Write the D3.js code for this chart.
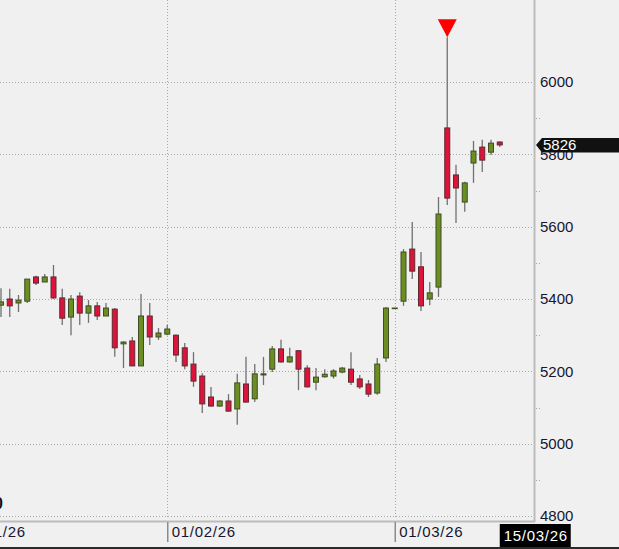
<!DOCTYPE html>
<html><head><meta charset="utf-8">
<script src="https://cdn.jsdelivr.net/npm/d3@7/dist/d3.min.js"></script>
<style>html,body{margin:0;padding:0;background:#f0f0f0;overflow:hidden}</style>
</head><body><svg id="c" width="619" height="549"></svg>
<script>
// ---- data (trading-session index 0..57, left part of history is off-screen) ----
const openV  = [5383,5400,5389,5394,5461,5447,5461,5403,5350,5408,5361,5381,5353,5372,5276,5284,5215,5353,5295,5303,
                5300,5265,5220,5187,5129,5104,5118,5096,5165,5124,5190,5206,5262,5226,5257,5209,5170,5185,5187,5198,
                5206,5179,5165,5140,5237,5375,5394,5538,5489,5400,5433,5873,5743,5668,5776,5820,5806,5834];
const highV  = [5430,5428,5411,5455,5464,5469,5494,5428,5411,5419,5397,5392,5389,5375,5283,5295,5414,5389,5320,5328,
                5302,5278,5253,5195,5157,5120,5137,5193,5240,5220,5240,5270,5287,5265,5259,5217,5209,5206,5206,5212,
                5253,5190,5176,5237,5378,5375,5538,5613,5530,5447,5682,6124,5771,5724,5837,5840,5840,5836];
const lowV   = [5350,5350,5364,5389,5439,5447,5400,5328,5300,5328,5334,5342,5353,5240,5209,5215,5215,5273,5287,5300,
                5226,5206,5157,5085,5102,5102,5088,5052,5113,5115,5162,5198,5224,5224,5148,5155,5148,5182,5180,5195,
                5162,5151,5129,5135,5226,5375,5381,5455,5367,5383,5406,5660,5610,5641,5721,5751,5798,5820];
const closeV = [5392,5381,5397,5455,5444,5461,5403,5347,5400,5361,5381,5353,5375,5265,5281,5215,5353,5295,5306,5317,
                5245,5215,5173,5110,5104,5118,5090,5168,5115,5193,5193,5262,5226,5240,5206,5157,5184,5192,5201,5209,
                5170,5157,5137,5220,5375,5375,5530,5477,5381,5417,5635,5679,5707,5721,5809,5784,5831,5826];
const yTicks      = [4800,5000,5200,5400,5600,5800,6000];
const yMinorTicks = [4900,5100,5300,5500,5700,5900];
const dateTickIdx    = [-5,19,45];
const dateTickLabels = ["01/01/26","01/02/26","01/03/26"];
const lastDateLabel  = "15/03/26";
const lastPrice      = 5826;
const markerIdx      = [51];

// ---- drawing ----
const W = 619, H = 549, plotRight = 534, plotBottom = 521;
const FONT = "'Liberation Sans', Arial, sans-serif";
const TXT = "#161630";
const svg = d3.select("#c");
const x = d3.scaleLinear().domain([0, 57]).range([1, 499.75]);
const y = d3.scaleLinear().domain([4800, 6000]).range([516, 82]);
const idx = d3.range(openV.length);

svg.append("rect").attr("width", W).attr("height", H).attr("fill", "#f0f0f0");

// horizontal dotted grid
svg.append("g").selectAll("line").data(yTicks).join("line")
  .attr("x1", 0).attr("x2", plotRight - 1)
  .attr("y1", d => Math.round(y(d)) + 0.5).attr("y2", d => Math.round(y(d)) + 0.5)
  .attr("stroke", "#a8a8a8").attr("stroke-width", 1).attr("stroke-dasharray", "1,2");
// vertical dotted grid
svg.append("g").selectAll("line").data(dateTickIdx).join("line")
  .attr("x1", d => Math.round(x(d)) + 0.5).attr("x2", d => Math.round(x(d)) + 0.5)
  .attr("y1", 0).attr("y2", plotBottom - 2)
  .attr("stroke", "#a8a8a8").attr("stroke-width", 1).attr("stroke-dasharray", "1,2");

// wicks
svg.append("g").selectAll("line").data(idx).join("line")
  .attr("x1", i => x(i)).attr("x2", i => x(i))
  .attr("y1", i => y(highV[i])).attr("y2", i => y(lowV[i]))
  .attr("stroke", "#707070").attr("stroke-width", 1.3);
// bodies
const bw = 5;
svg.append("g").selectAll("rect").data(idx).join("rect")
  .attr("x", i => x(i) - bw / 2)
  .attr("y", i => y(Math.max(openV[i], closeV[i])))
  .attr("width", bw)
  .attr("height", i => Math.max(0.6, Math.abs(y(openV[i]) - y(closeV[i]))))
  .attr("fill", i => closeV[i] >= openV[i] ? "#6b8e23" : "#dc143c")
  .attr("stroke", i => closeV[i] >= openV[i] ? "#3e4d22" : "#5e2a30")
  .attr("stroke-width", 1);

// red marker triangle above the high
svg.append("g").selectAll("path").data(markerIdx).join("path")
  .attr("d", i => { const cx = x(i), cy = y(highV[i]); return `M${cx - 9.5},${cy - 18}L${cx + 9.5},${cy - 18}L${cx},${cy}Z`; })
  .attr("fill", "#ff0000");

// right price axis
svg.append("line").attr("x1", plotRight + 0.5).attr("x2", plotRight + 0.5).attr("y1", 0).attr("y2", plotBottom + 1)
  .attr("stroke", "#bcbcbc").attr("stroke-width", 2);
svg.append("g").selectAll("line").data(yMinorTicks).join("line")
  .attr("x1", plotRight + 2).attr("x2", plotRight + 7)
  .attr("y1", d => Math.round(y(d)) + 0.5).attr("y2", d => Math.round(y(d)) + 0.5)
  .attr("stroke", "#a8a8a8").attr("stroke-dasharray", "1,2");
const yAxis = svg.append("g").attr("transform", `translate(${plotRight},0)`)
  .call(d3.axisRight(y).tickValues(yTicks).tickSize(0).tickPadding(6).tickFormat(d3.format("d")));
yAxis.select(".domain").remove();
yAxis.selectAll("text").attr("fill", TXT).style("font-family", FONT).style("font-size", "15px");

// bottom border + date axis
svg.append("line").attr("x1", 0).attr("x2", plotRight + 1).attr("y1", plotBottom + 0.5).attr("y2", plotBottom + 0.5)
  .attr("stroke", "#bcbcbc").attr("stroke-width", 2);
const xAxis = svg.append("g").attr("transform", `translate(0,${plotBottom + 1})`)
  .call(d3.axisBottom(x).tickValues(dateTickIdx).tickSize(20).tickFormat((d, k) => dateTickLabels[k]));
xAxis.select(".domain").remove();
xAxis.selectAll(".tick line").attr("stroke", "#8c8c8c").attr("stroke-width", 1.5);
xAxis.selectAll(".tick text").attr("text-anchor", "start").attr("x", 4).attr("y", 4).attr("dy", "0.71em")
  .attr("fill", TXT).style("font-family", FONT).style("font-size", "15px").style("letter-spacing", "0.7px");

// last date tag
const lx = x(57);
svg.append("rect").attr("x", lx).attr("y", 524).attr("width", 71).attr("height", 23).attr("fill", "#000");
svg.append("text").attr("x", lx + 4).attr("y", 541).text(lastDateLabel)
  .attr("fill", "#fff").style("font-family", FONT).style("font-size", "15px").style("letter-spacing", "0.7px");

// last price tag
const py = y(lastPrice);
svg.append("path").attr("d", `M${plotRight + 2},${py}L${plotRight + 8},${py - 7}L${W + 2},${py - 7}L${W + 2},${py + 7.5}L${plotRight + 8},${py + 7.5}Z`)
  .attr("fill", "#111");
svg.append("text").attr("x", plotRight + 9).attr("y", py + 5.5).text(d3.format("d")(lastPrice))
  .attr("fill", "#fff").style("font-family", FONT).style("font-size", "15px");

// partial glyph at the left edge
svg.append("text").attr("x", 3).attr("y", 509).attr("text-anchor", "end").text("0")
  .attr("fill", "#111").style("font-family", FONT).style("font-size", "16px").style("font-weight", "bold");

// window bottom line
svg.append("rect").attr("x", 0).attr("y", 547).attr("width", W).attr("height", 2).attr("fill", "#2a2a2a");
</script></body></html>
